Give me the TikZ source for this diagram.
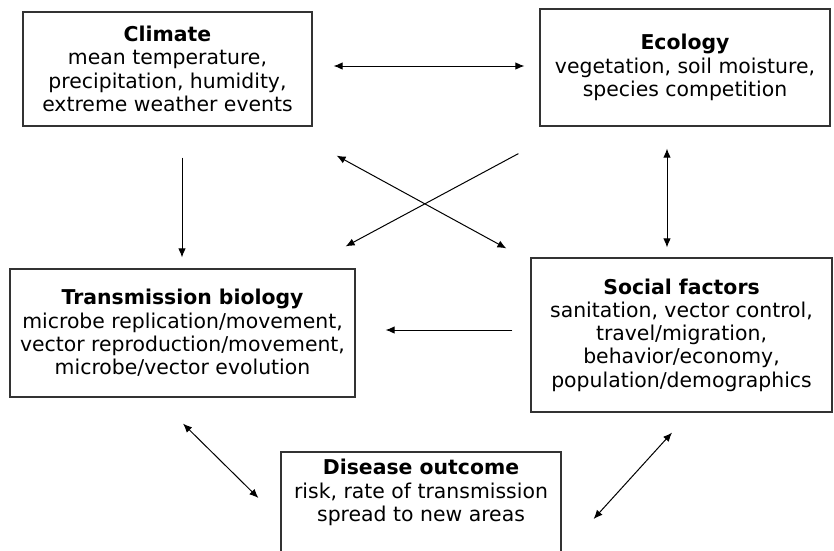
\documentclass[tikz,border=0pt]{standalone}
\usepackage{fontspec}
\setmainfont{DejaVu Sans}
\usetikzlibrary{arrows.meta}
\usetikzlibrary{calc}

\tikzset{
  factor/.style={draw=black!80, line width=1.2pt, align=center, inner sep=2pt,
    font=\fontsize{20.4}{23.3}\selectfont},
  link/.style={line width=1pt, >={Latex[length=9pt,width=7.5pt]}}
}

\begin{document}
\begin{tikzpicture}[x=1pt,y=-1pt]
  \useasboundingbox (0,0) rectangle (834,550);
  \node[factor, minimum width=289pt, minimum height=114pt] (climate) at (167.5,69)
    {\textbf{Climate}\\mean temperature,\\precipitation, humidity,\\extreme weather events};
  \node[factor, minimum width=290pt, minimum height=117pt] (ecology) at (685,67.5)
    {\textbf{Ecology}\\vegetation, soil moisture,\\species competition};
  \node[factor, minimum width=345pt, minimum height=128pt] (transmission) at (182.5,333)
    {\textbf{Transmission biology}\\microbe replication/movement,\\vector reproduction/movement,\\microbe/vector evolution};
  \node[factor, minimum width=301pt, minimum height=154pt] (social) at (681.5,335)
    {\textbf{Social factors}\\sanitation, vector control,\\travel/migration,\\behavior/economy,\\population/demographics};
  \node[factor, minimum width=280pt, minimum height=100pt] (disease) at (421,502)
    {\textbf{Disease outcome}\\risk, rate of transmission\\spread to new areas\\\mbox{}};

  % links
  \draw[link,<->] ($(climate.east)+(21,-3)$) -- ($(ecology.west)+(-15,-1.5)$);
  \draw[link,->] ($(climate.south)+(14.5,31)$) -- ($(transmission.north)+(-0.5,-11)$);
  \draw[link,<->] ($(ecology.south)+(-18,22)$) -- ($(social.north)+(-14.5,-10)$);
  \draw[link,<->] ($(climate.south east)+(24,29)$) -- ($(social.north west)+(-24,-9)$);
  \draw[link,->] ($(ecology.south west)+(-21,27)$) -- ($(transmission.north east)+(-10,-22)$);
  \draw[link,->] ($(social.west)+(-18,-5)$) -- ($(transmission.east)+(30,-3)$);
  \draw[link,<->] ($(transmission.south)+(0.5,26)$) -- ($(disease.west)+(-22,-4)$);
  \draw[link,<->] ($(social.south)+(-9.5,20)$) -- ($(disease.east)+(32,17)$);
\end{tikzpicture}
\end{document}
